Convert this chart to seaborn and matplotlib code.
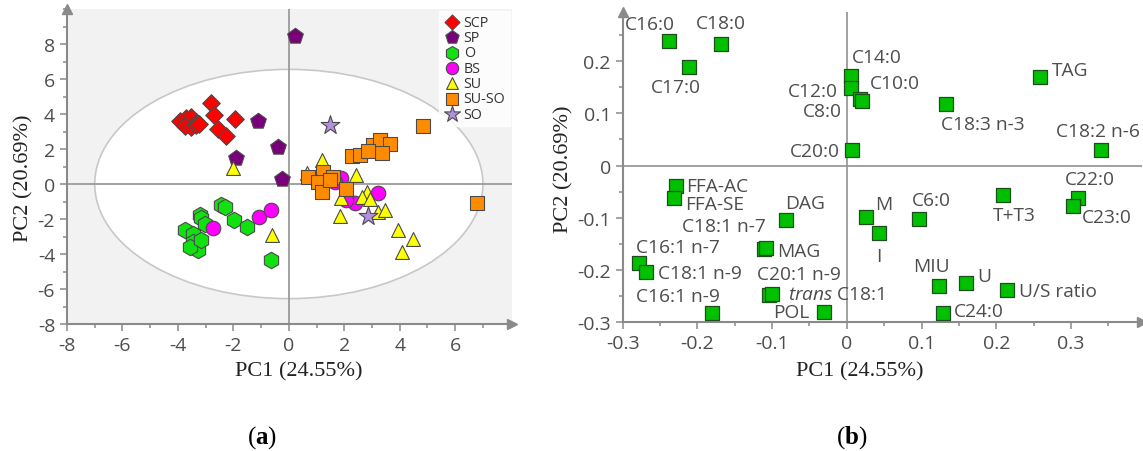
import matplotlib
matplotlib.use("Agg")
import matplotlib.pyplot as plt
import pandas as pd
import seaborn as sns
from matplotlib.patches import Ellipse
from matplotlib.ticker import MultipleLocator, FuncFormatter

sns.set_theme(style="ticks")
plt.rcParams["font.family"] = ["Open Sans", "DejaVu Sans"]
plt.rcParams["axes.unicode_minus"] = False
plt.rcParams["mathtext.fontset"] = "custom"
plt.rcParams["mathtext.it"] = "Open Sans:italic"
plt.rcParams["mathtext.rm"] = "Liberation Serif"
plt.rcParams["mathtext.bf"] = "Liberation Serif:bold"

# ---- panel (a): PCA scores by group ----
groups = ["SCP", "SP", "O", "BS", "SU", "SU-SO", "SO"]

scp_x = [-3.94, -3.70, -3.52, -3.34, -3.76, -3.52, -3.36, -3.24, -2.79, -2.70, -1.95, -2.55, -2.25]
scp_y = [3.58, 3.78, 3.83, 3.54, 3.29, 3.24, 3.35, 3.43, 4.64, 3.93, 3.72, 3.16, 2.72]
sp_x = [-1.11, -0.39, -1.92, -0.23, 0.22]
sp_y = [3.58, 2.14, 1.51, 0.27, 8.46]
o_x = [-2.43, -2.31, -1.99, -1.49, -3.22, -3.16, -3.04, -3.76, -3.46, -3.46, -3.28, -3.58, -3.16, -0.63]
o_y = [-1.21, -1.34, -2.07, -2.45, -1.78, -1.97, -2.26, -2.64, -2.84, -3.31, -3.79, -3.60, -3.22, -4.33]
bs_x = [-2.74, -1.07, -0.63, 1.90, 3.23, 2.38, 2.08, 1.66]
bs_y = [-2.51, -1.88, -1.46, 0.33, -0.54, -1.11, -0.92, 0.13]
su_x = [-2.01, -0.59, 2.75, 0.64, 1.20, 2.41, 1.90, 2.81, 2.63, 2.93, 3.23, 3.47, 1.84, 3.95, 4.49, 4.07]
su_y = [0.90, -2.93, 1.86, 0.61, 1.38, 0.52, -0.82, -0.44, -0.73, -0.88, -1.59, -1.49, -1.84, -2.64, -3.12, -3.89]
suso_x = [2.27, 2.57, 3.05, 3.29, 3.65, 3.35, 2.87, 4.83, 6.78, 0.70, 1.24, 1.60, 1.06, 1.18, 2.08, 1.48]
suso_y = [1.61, 1.67, 2.24, 2.53, 2.28, 1.76, 1.86, 3.29, -1.07, 0.42, 0.71, 0.42, 0.13, -0.44, -0.31, 0.23]
so_x = [1.48, 2.84]
so_y = [3.39, -1.84]

# ---- panel (b): loadings ----
var_names = ["C16:0", "C18:0", "C17:0", "C14:0", "C12:0", "C10:0", "C8:0", "C20:0",
             "C18:3 n-3", "TAG", "C18:2 n-6", "C22:0", "C23:0", "T+T3", "M", "I",
             "C6:0", "MIU", "U", "U/S ratio", "C24:0", "FFA-AC", "FFA-SE", "DAG",
             "C18:1 n-7", "MAG", "C20:1 n-9", "C16:1 n-7", "C18:1 n-9", "C16:1 n-9",
             r"$\it{trans}$ C18:1", "POL"]
load_pc1 = [-0.238, -0.168, -0.211, 0.006, 0.006, 0.018, 0.020, 0.007,
            0.133, 0.258, 0.340, 0.310, 0.302, 0.209, 0.025, 0.043,
            0.096, 0.123, 0.159, 0.214, 0.129, -0.228, -0.231, -0.082,
            -0.111, -0.108, -0.104, -0.278, -0.269, -0.180,
            -0.100, -0.031]
load_pc2 = [0.238, 0.233, 0.188, 0.172, 0.148, 0.128, 0.123, 0.030,
            0.117, 0.169, 0.030, -0.062, -0.077, -0.057, -0.099, -0.129,
            -0.103, -0.231, -0.225, -0.238, -0.282, -0.040, -0.062, -0.105,
            -0.160, -0.158, -0.248, -0.186, -0.204, -0.282,
            -0.246, -0.280]

# label placement (offset in points, horizontal alignment)
label_pos = {
    "C16:0": (-13.7, 12.7, "center"), "C18:0": (0, 15.1, "center"),
    "C17:0": (-9.6, -14.4, "center"), "C14:0": (0.5, 13.2, "left"),
    "C12:0": (-10, -1.7, "right"), "C10:0": (7.2, 11.5, "left"),
    "C8:0": (-14.4, -7.2, "right"), "C20:0": (-8.9, -0.5, "right"),
    "C18:3 n-3": (-4.1, -13.9, "left"), "TAG": (8.9, 5.3, "left"),
    "C18:2 n-6": (-32.4, 13.9, "left"), "C22:0": (-9.6, 13.7, "left"),
    "C23:0": (6.8, -8.4, "left"), "T+T3": (7.9, -14.4, "center"),
    "M": (6.7, 9.6, "left"), "I": (0, -16.3, "center"),
    "C6:0": (-4.8, 13.7, "left"), "MIU": (-18.2, 14.8, "left"),
    "U": (8.4, 5.3, "left"), "U/S ratio": (8.6, -0.7, "left"),
    "C24:0": (7.4, 1.7, "left"), "FFA-AC": (7.2, 0.7, "left"),
    "FFA-SE": (7.9, -4.3, "left"), "DAG": (-0.5, 12.7, "left"),
    "C18:1 n-7": (-28.8, 16.9, "center"), "MAG": (7.6, -1.8, "left"),
    "C20:1 n-9": (-8.5, 15.3, "left"), "C16:1 n-7": (-1.9, 11.2, "left"),
    "C18:1 n-9": (8.9, -0.6, "left"), "C16:1 n-9": (5.5, 12.4, "right"),
    r"$\it{trans}$ C18:1": (11.7, 0, "left"), "POL": (-10.3, -0.3, "right"),
}

xs = [scp_x, sp_x, o_x, bs_x, su_x, suso_x, so_x]
ys = [scp_y, sp_y, o_y, bs_y, su_y, suso_y, so_y]
df_a = pd.concat([pd.DataFrame({"PC1": x, "PC2": y, "group": g}) for g, x, y in zip(groups, xs, ys)],
                 ignore_index=True)
df_b = pd.DataFrame({"name": var_names, "PC1": load_pc1, "PC2": load_pc2})

colors = {"SCP": "#ff0000", "SP": "#7a0079", "O": "#11e011", "BS": "#ff00ff",
          "SU": "#ffff00", "SU-SO": "#ff8c00", "SO": "#b48fe0"}
markers = {"SCP": "D", "SP": "p", "O": "h", "BS": "o", "SU": "^", "SU-SO": "s", "SO": "*"}
sizes = {"SCP": 80, "SP": 140, "O": 140, "BS": 110, "SU": 100, "SU-SO": 105, "SO": 200}

fig = plt.figure(figsize=(11.43, 4.52), dpi=100)
ax1 = fig.add_axes([67 / 1143, 1 - 325 / 452, 445 / 1143, 315 / 452])
ax2 = fig.add_axes([622.7 / 1143, 1 - 323.3 / 452, 519.3 / 1143, 310.3 / 452])

axis_grey = "#8a8a8a"
tick_grey = "#4d4d4d"

# ---------- (a) ----------
ax1.set_facecolor("#f2f2f2")
ax1.add_patch(Ellipse((0, 0), 14.0, 13.1, fc="white", ec="#c8c8c8", lw=1.2, zorder=0.5))
ax1.axhline(0, color="#9a9a9a", lw=1.3, zorder=1)
ax1.axvline(0, color="#9a9a9a", lw=1.3, zorder=1)
for g in groups:
    sns.scatterplot(data=df_a[df_a["group"] == g], x="PC1", y="PC2", marker=markers[g],
                    color=colors[g], s=sizes[g], edgecolor="#4a4a4a", linewidth=0.8,
                    label=g, ax=ax1, zorder=3)
ax1.set_xlim(-8, 8.05)
ax1.set_ylim(-8, 10)
ax1.set_xticks(range(-8, 7, 2))
ax1.set_yticks(range(-8, 9, 2))
ax1.xaxis.set_minor_locator(MultipleLocator(1))
ax1.yaxis.set_minor_locator(MultipleLocator(1))
leg = ax1.legend(loc="upper right", bbox_to_anchor=(0.995, 0.995), frameon=True, fontsize=10.3,
                 labelspacing=0.02, handletextpad=0.2, borderpad=0.3, borderaxespad=0,
                 markerscale=0.85, handlelength=1.2, fancybox=False)
leg.get_frame().set_facecolor("white")
leg.get_frame().set_edgecolor("white")
for t in leg.get_texts():
    t.set_color("#333333")

# ---------- (b) ----------
ax2.axhline(0, color="#9a9a9a", lw=1.3, zorder=1)
ax2.axvline(0, color="#9a9a9a", lw=1.3, zorder=1)
sns.scatterplot(data=df_b, x="PC1", y="PC2", marker="s", s=95, color="#00c000",
                edgecolor="#1e4d1e", linewidth=0.9, ax=ax2, zorder=3)
for name, x, y in zip(df_b["name"], df_b["PC1"], df_b["PC2"]):
    dx, dy, ha = label_pos[name]
    ax2.annotate(name, (x, y), xytext=(dx, dy), textcoords="offset points", ha=ha, va="center",
                 fontsize=13.8, color="#4d4d4d", zorder=4, annotation_clip=False)
ax2.set_xlim(-0.3, 0.395)
ax2.set_ylim(-0.3, 0.294)
ax2.set_xticks([-0.3, -0.2, -0.1, 0, 0.1, 0.2, 0.3])
ax2.set_yticks([-0.3, -0.2, -0.1, 0, 0.1, 0.2])
ax2.xaxis.set_minor_locator(MultipleLocator(0.05))
ax2.yaxis.set_minor_locator(MultipleLocator(0.05))
fmt = FuncFormatter(lambda v, p: f"{round(v, 2):g}")
ax2.xaxis.set_major_formatter(fmt)
ax2.yaxis.set_major_formatter(fmt)

# common axis styling
for ax in (ax1, ax2):
    for side in ("top", "right"):
        ax.spines[side].set_visible(False)
    for side in ("left", "bottom"):
        ax.spines[side].set_color(axis_grey)
        ax.spines[side].set_linewidth(1.5)
    ax.tick_params(which="both", direction="out", color=axis_grey, labelcolor=tick_grey,
                   labelsize=14, width=1.1)
    ax.tick_params(which="major", length=5)
    ax.tick_params(which="minor", length=3)
    ax.plot(1, 0, ">", transform=ax.transAxes, clip_on=False, color=axis_grey, ms=7, zorder=5)
    ax.plot(0, 1, "^", transform=ax.transAxes, clip_on=False, color=axis_grey, ms=7, zorder=5)
    ax.set_xlabel("PC1 (24.55%)", family="Liberation Serif", fontsize=16, color="#222222")
    ax.set_ylabel("PC2 (20.69%)", family="Liberation Serif", fontsize=16, color="#222222")

ax1.xaxis.set_label_coords(0.52, -0.117)
ax1.yaxis.set_label_coords(-0.076, 0.467)
ax2.xaxis.set_label_coords(0.457, -0.125)
ax2.yaxis.set_label_coords(-0.095, 0.497)

fig.text(0.229, 0.033, r"($\mathbf{a}$)", family="Liberation Serif", fontsize=18,
         ha="center", va="center", color="black")
fig.text(0.745, 0.033, r"($\mathbf{b}$)", family="Liberation Serif", fontsize=18,
         ha="center", va="center", color="black")

fig.savefig("out.png", dpi=100)
